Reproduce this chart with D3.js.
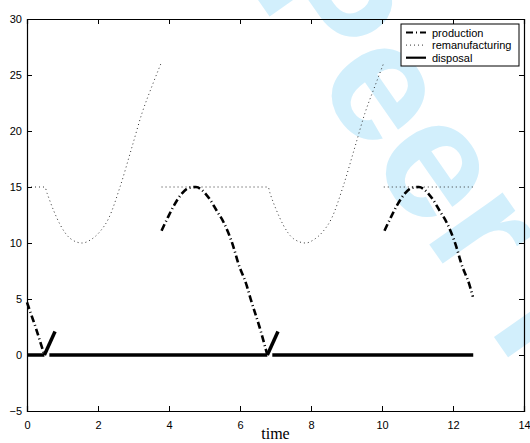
<!DOCTYPE html>
<html>
<head>
<meta charset="utf-8">
<script src="https://cdn.jsdelivr.net/npm/d3@7"></script>
<style>
  body { margin: 0; background: #fff; }
  svg { display: block; }
  .tick-label { font-family: "Liberation Sans", Arial, sans-serif; font-size: 11px; fill: #000; }
  .axis-title { font-family: "Liberation Serif", "Times New Roman", serif; font-size: 16px; fill: #000; }
  .legend-text { font-family: "Liberation Sans", Arial, sans-serif; font-size: 11px; fill: #000; }
</style>
</head>
<body>
<svg id="chart" width="530" height="443"></svg>
<script>
// ---- data ----
const xTicks = [0, 2, 4, 6, 8, 10, 12, 14];
const yTicks = [-5, 0, 5, 10, 15, 20, 25, 30];

// production (dash-dot), one array per visible piece: [time, value]
const production1 = [[0, 4.7], [0.12, 3.6], [0.25, 2.4], [0.37, 1.2], [0.49, 0]];
const production2 = [[3.79, 11.1], [3.94, 12.1], [4.15, 13.4], [4.36, 14.4], [4.55, 14.9], [4.76, 15.0],
  [4.97, 14.6], [5.15, 13.9], [5.34, 12.9], [5.53, 11.9], [5.81, 9.7], [5.95, 8.2], [6.19, 6.2],
  [6.3, 5.0], [6.55, 2.5], [6.77, 0]];
const production3 = [[10.07, 11.1], [10.22, 12.1], [10.43, 13.4], [10.64, 14.4], [10.83, 14.9], [11.04, 15.0],
  [11.25, 14.6], [11.43, 13.9], [11.62, 12.9], [11.81, 11.9], [12.09, 9.7], [12.23, 8.2], [12.47, 6.2],
  [12.56, 5.2]];

// remanufacturing (dotted)
const remanufacturing1 = [[0, 15], [0.5, 15], [0.57, 14.4], [0.75, 12.9], [0.94, 11.6], [1.22, 10.4],
  [1.55, 10.0], [1.8, 10.3], [2.05, 11.0], [2.3, 12.2], [2.62, 15.0], [2.96, 18.6], [3.24, 21.6],
  [3.52, 24.0], [3.77, 26.0]];
const remanufacturing2 = [[3.79, 15], [6.79, 15], [6.85, 14.4], [7.03, 12.9], [7.22, 11.6], [7.5, 10.4],
  [7.85, 10.0], [8.08, 10.3], [8.33, 11.0], [8.58, 12.2], [8.9, 15.0], [9.24, 18.6], [9.52, 21.6],
  [9.8, 24.0], [10.04, 26.0]];
const remanufacturing3 = [[10.05, 15], [12.56, 15]];

// disposal (solid)
const disposal1 = [[0, 0], [0.49, 0]];
const disposalJump1 = [[0.49, 0], [0.79, 2.1]];
const disposal2 = [[0.63, 0], [6.77, 0]];
const disposalJump2 = [[6.77, 0], [7.07, 2.1]];
const disposal3 = [[6.91, 0], [12.57, 0]];

const legendLabels = ['production', 'remanufacturing', 'disposal'];

// ---- layout ----
const margin = { top: 19, right: 6, bottom: 32, left: 27 };
const svg = d3.select('#chart');
const width = 530 - margin.left - margin.right;
const height = 443 - margin.top - margin.bottom;

// watermark, behind everything
svg.append('text')
    .attr('transform', 'translate(249,-13) rotate(55)')
    .attr('font-family', '"Liberation Sans", Arial, sans-serif')
    .attr('font-weight', 'bold')
    .attr('font-size', 170)
    .attr('fill', '#d2effc')
    .text('Peer Review');

const chart = svg.append('g')
    .attr('transform', `translate(${margin.left},${margin.top})`);

const xScale = d3.scaleLinear().domain([0, 14]).range([0, width]);
const yScale = d3.scaleLinear().domain([-5, 30]).range([height, 0]);

const line = d3.line()
    .x(d => xScale(d[0]))
    .y(d => yScale(d[1]))
    .curve(d3.curveMonotoneX);

// ---- series ----
const styles = {
  production: { stroke: '#000', width: 2.6, dash: '7,3,1,3' },
  remanufacturing: { stroke: '#333', width: 1, dash: '1,3' },
  disposal: { stroke: '#000', width: 3.5, dash: null }
};

function drawSeries(pieces, s) {
  chart.selectAll(null)
      .data(pieces)
    .join('path')
      .attr('d', line)
      .attr('fill', 'none')
      .attr('stroke', s.stroke)
      .attr('stroke-width', s.width)
      .attr('stroke-dasharray', s.dash);
}

drawSeries([remanufacturing1, remanufacturing2, remanufacturing3], styles.remanufacturing);
drawSeries([disposal1, disposalJump1, disposal2, disposalJump2, disposal3], styles.disposal);
drawSeries([production1, production2, production3], styles.production);

// ---- axes (MATLAB style box, ticks inward on all sides) ----
const tickLen = 5;
chart.append('g').attr('transform', `translate(0,${height})`)
    .call(d3.axisBottom(xScale).tickValues(xTicks).tickSize(-tickLen).tickPadding(10).tickFormat(d3.format('d')))
    .call(g => g.selectAll('text').attr('class', 'tick-label').attr('font-size', null).attr('font-family', null));
chart.append('g')
    .call(d3.axisTop(xScale).tickValues(xTicks).tickSize(-tickLen).tickFormat(''));
chart.append('g')
    .call(d3.axisLeft(yScale).tickValues(yTicks).tickSize(-tickLen).tickPadding(5)
      .tickFormat(d => d < 0 ? '\u2212' + Math.abs(d) : d))
    .call(g => g.selectAll('text').attr('class', 'tick-label').attr('font-size', null).attr('font-family', null));
chart.append('g').attr('transform', `translate(${width},0)`)
    .call(d3.axisRight(yScale).tickValues(yTicks).tickSize(-tickLen).tickFormat(''));
chart.selectAll('.domain').attr('stroke', '#000').attr('stroke-width', 1.2);
chart.selectAll('.tick line').attr('stroke', '#000');

chart.append('text')
    .attr('class', 'axis-title')
    .attr('x', width / 2)
    .attr('y', height + 28)
    .attr('text-anchor', 'middle')
    .text('time');

// ---- legend ----
const legend = chart.append('g')
    .attr('transform', `translate(${width - 123},${24 - margin.top})`);
legend.append('rect')
    .attr('width', 118).attr('height', 42)
    .attr('fill', '#fff').attr('stroke', '#000').attr('stroke-width', 1);
const legendKeys = ['production', 'remanufacturing', 'disposal'];
legendKeys.forEach((k, i) => {
  const y = 8.5 + i * 12.6;
  legend.append('line')
      .attr('x1', 5).attr('x2', 25).attr('y1', y).attr('y2', y)
      .attr('stroke', styles[k].stroke)
      .attr('stroke-width', k === 'remanufacturing' ? 1 : 2.2)
      .attr('stroke-dasharray', styles[k].dash);
  legend.append('text')
      .attr('class', 'legend-text')
      .attr('x', 31).attr('y', y + 4)
      .text(legendLabels[i]);
});
</script>
</body>
</html>
